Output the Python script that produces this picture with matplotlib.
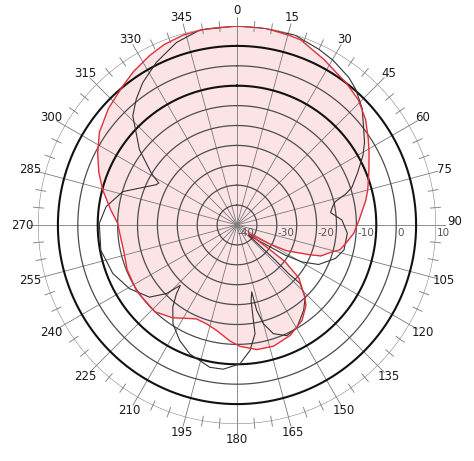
import matplotlib
matplotlib.use("Agg")
import matplotlib.pyplot as plt
import numpy as np

# red pattern (angle in degrees clockwise from top, level in dB)
red_ang = [0, 8, 15.7, 19, 27.6, 37.7, 44.1, 50.6, 56.9, 61.4, 68.5, 75, 79,
           87.7, 94.1, 99.6, 103.6, 106.3, 110.2, 112.3, 117.5, 120.3, 126.3,
           126.7, 127.4, 130.6, 136.6, 139.3, 145.7, 154.3, 163.2, 170.9,
           178.6, 183.5, 190.9, 197, 203.4, 209, 214.8, 223.4, 236.5, 247.8,
           257, 264, 270.8, 277, 284.7, 291, 297.3, 304, 312.2, 320.6, 326,
           332.7, 338, 344.2, 351, 360]
red_db = [10.0, 10.0, 9.4, 9.2, 7.0, 5.0, 3.8, 1.8, -0.6, -2.2, -4.4, -6.0, -7.0,
          -9.3, -10.6, -12.3, -13.4, -15.5, -17.5, -20.3, -26.0, -30.8, -36.5,
          -30.2, -24.7, -19.5, -15.3, -13.4, -11.0, -9.2, -8.2, -8.3,
          -9.5, -10.8, -13.0, -14.0, -14.3, -13.2, -11.6, -10.0, -9.8, -10.2,
          -10.8, -10.6, -10.0, -8.0, -5.1, -2.8, -0.6, 1.7, 3.6, 5.2, 6.5,
          7.9, 8.9, 9.6, 9.9, 10.0]

# black pattern
blk_ang = [0, 8, 14, 17, 20, 25, 30.3, 37.2, 41.2, 47, 52.7, 57, 61, 66.6, 71.8,
           74, 76.6, 79, 82.4, 84, 87.3, 94.3, 103.2, 108.8, 115.8, 119.6, 122,
           131.5, 132.6, 133.3, 132.8, 136.5, 142, 149.6, 155.7, 161.5, 165, 167,
           167.6, 169.5, 170, 170.6, 174.1, 178.8, 185.5, 190.8, 200.1, 206.4,
           212.9, 218, 221.4, 223.2, 225.8, 230.5, 239.4, 248.7, 256.5, 259.5,
           270.7, 278, 286.3, 296.5, 298.2, 301.2, 307.7, 312.4, 316.3, 321.3,
           326.5, 333.6, 341.6, 349.3, 360]
blk_db = [10.0, 9.9, 9.7, 9.9, 9.3, 8.7, 7.9, 6.5, 5.3, 3.0, 0.0, -1.8, -3.8, -7.0, -9.6,
          -11.5, -14.6, -15.5, -16.3, -15.5, -13.6, -12.2, -12.4, -13.9, -17.2, -21.2, -25.7,
          -36.2, -26.9, -22.2, -18.5, -15.1, -12.8, -10.2, -9.5, -11.2, -14.3, -18.0,
          -22.8, -20.5, -17.5, -12.3, -8.3, -5.1, -3.6, -3.6, -5.5, -7.6,
          -10.4, -13.8, -17.0, -19.2, -15.3, -11.5, -8.6, -6.5, -5.7, -5.2,
          -5.4, -6.8, -10.1, -17.3, -17.7, -14.8, -9.0, -5.7, -2.1, 0.5,
          2.9, 5.6, 8.3, 9.9, 10.0]

ring_levels = [-35, -30, -25, -20, -15, -10, -5, 0, 5, 10]
ring_labels = ["-40", "-30", "-20", "-10", "0", "10"]
ring_label_levels = [-40, -30, -20, -10, 0, 10]
angle_labels = list(range(0, 360, 15))

W, H = 474, 461
fig = plt.figure(figsize=(W / 100, H / 100), dpi=100)
cx, cy, R = 237, 461 - 225, 199
ax = fig.add_axes([(cx - R) / W, (cy - R) / H, 2 * R / W, 2 * R / H], projection="polar")
ax.set_theta_zero_location("N")
ax.set_theta_direction(-1)
ax.set_ylim(-40, 10)
ax.grid(False)
ax.set_xticks([])
ax.set_yticks([])
ax.spines["polar"].set_visible(False)
ax.patch.set_visible(False)

t = np.linspace(0, 2 * np.pi, 721)

# fill under grid
ax.fill(np.deg2rad(red_ang), red_db, color="#fce3e5", zorder=0, lw=0)

# rings
for lv in ring_levels:
    if lv in (5, -5):
        ax.plot(t, np.full_like(t, lv), color="#111111", lw=1.5, zorder=2)
    elif lv == 10:
        ax.plot(t, np.full_like(t, lv), color="#888888", lw=0.8, zorder=2)
    else:
        ax.plot(t, np.full_like(t, lv), color="#4d4d4d", lw=0.9, zorder=2)

# spokes + angle labels
for a in angle_labels:
    th = np.deg2rad(a)
    ax.plot([th, th], [-40, 12.3], color="#7a7a7a", lw=0.6, zorder=1, clip_on=False)
    off = (3, 4) if a == 90 else (0, 0)
    ax.annotate(str(a), xy=(th, 13.9), xytext=off, textcoords="offset pixels",
                ha="center", va="center", fontsize=8.5, color="#1a1a1a",
                annotation_clip=False)

# ticks on outer ring every 5 degrees
for a in range(0, 360, 5):
    if a % 15 == 0:
        continue
    th = np.deg2rad(a)
    ax.plot([th, th], [8.8, 11.3], color="#888888", lw=0.7, zorder=2, clip_on=False)

# radial labels
for lv, lab in zip(ring_label_levels, ring_labels):
    ax.annotate(lab, xy=(np.pi / 2, lv), xytext=(1, -3), textcoords="offset pixels",
                ha="left", va="top", fontsize=7.5, color="#555555")

# patterns
ax.plot(np.deg2rad(blk_ang), blk_db, color="#333333", lw=0.8, zorder=4)
ax.plot(np.deg2rad(red_ang), red_db, color="#e0303c", lw=1.0, zorder=5)

fig.savefig("out.png", dpi=100)
